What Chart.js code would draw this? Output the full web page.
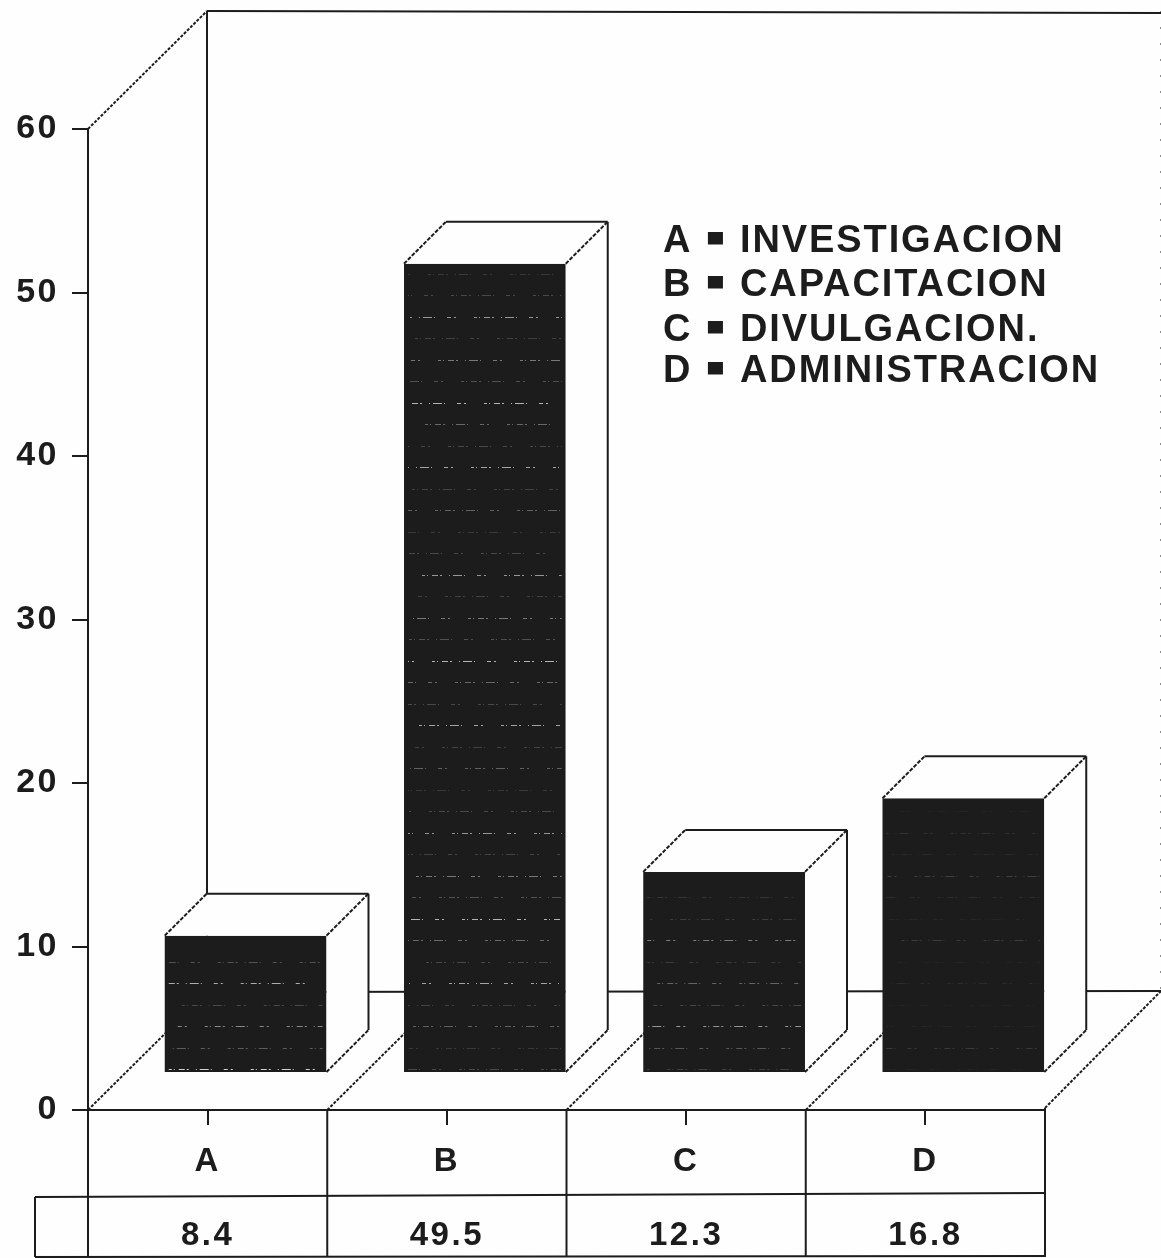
<!DOCTYPE html>
<html>
<head>
<meta charset="utf-8">
<style>
  html, body { margin: 0; padding: 0; background: #fefefe; }
  canvas { display: block; }
</style>
<script src="https://cdn.jsdelivr.net/npm/chart.js@4"></script>
</head>
<body>
<canvas id="chart" width="1161" height="1258"></canvas>
<script>
const categories = ['A', 'B', 'C', 'D'];
const values = [8.4, 49.5, 12.3, 16.8];
const yTicks = [0, 10, 20, 30, 40, 50, 60];
const legendNames = ['INVESTIGACION', 'CAPACITACION', 'DIVULGACION.', 'ADMINISTRACION'];

const INK = '#1c1c1c';
const FONT = '"Liberation Sans", Arial, sans-serif';

// how far the bars sit in front of the back wall, and the depth of each box
const WALL = { x: 119, y: -118 };
const SHIFT = { x: 38, y: -37 };
const DEPTH = 42;

// scan streaks on the dark faces
const streakStrength = [0.9, 0.75, 0.6, 0.18];
const streakLevels = [1, 0.35, 0.6, 0.25, 0.8, 0.3, 0.2, 0.45, 0.25, 0.9, 0.3, 0.5];
const streakDash = [3, 2, 1, 4, 6, 2, 2, 7, 1, 3, 9, 2, 1, 12, 4, 3, 2, 18];

function line(ctx, x1, y1, x2, y2, dash) {
    ctx.beginPath();
    ctx.setLineDash(dash || []);
    ctx.moveTo(x1, y1);
    ctx.lineTo(x2, y2);
    ctx.stroke();
    ctx.setLineDash([]);
}

const box3d = {
    id: 'box3d',
    beforeDraw(chart) {
        const ctx = chart.ctx;
        ctx.letterSpacing = '2.5px';
        ctx.fillStyle = '#fefefe';
        ctx.fillRect(0, 0, chart.width, chart.height);
    },
    beforeDatasetsDraw(chart) {
        const ctx = chart.ctx;
        const { left, right, top, bottom } = chart.chartArea;
        const xs = chart.scales.x;
        const dotted = [3, 1.5];
        ctx.strokeStyle = INK;
        ctx.lineWidth = 2;

        // back wall and floor
        line(ctx, left, top, left + WALL.x, top + WALL.y, dotted);
        line(ctx, left + WALL.x, top + WALL.y, left + WALL.x, bottom + WALL.y);
        line(ctx, left + WALL.x, top + WALL.y, chart.width, top + WALL.y + 2);
        line(ctx, left + WALL.x, bottom + WALL.y, right + WALL.x, bottom + WALL.y - 1);
        ctx.lineWidth = 1;
        line(ctx, right + WALL.x - 3, top + WALL.y, right + WALL.x - 3, bottom + WALL.y - 1, [2, 14]);
        ctx.lineWidth = 2;

        // floor diagonals on the category boundaries
        const step = xs.getPixelForValue(1) - xs.getPixelForValue(0);
        categories.forEach((c, i) => {
            const x = xs.getPixelForValue(i) - step / 2;
            line(ctx, x, bottom, x + WALL.x, bottom + WALL.y, dotted);
        });
        line(ctx, right, bottom - 2, right + WALL.x - 3, bottom + WALL.y - 1, dotted);

        // table under the axis
        const rowY = [bottom + 87, bottom + 83];
        const endY = 1257;
        line(ctx, 35, rowY[0], right, rowY[1]);
        line(ctx, 35, endY, right, endY - 1);
        line(ctx, 35, rowY[0], 35, endY);
        categories.forEach((c, i) => {
            const x = xs.getPixelForValue(i) - step / 2;
            line(ctx, x, bottom, x, endY);
        });
        line(ctx, right, bottom - 2, right, endY);

        ctx.save();
        ctx.translate(SHIFT.x, SHIFT.y);
    },
    afterDatasetsDraw(chart) {
        const ctx = chart.ctx;
        const bars = chart.getDatasetMeta(0).data;
        const dotted = [4, 1.5];

        bars.forEach((bar, i) => {
            const l = bar.x - bar.width / 2;
            const r = bar.x + bar.width / 2;
            const t = bar.y;
            const b = bar.base;

            // streaks every 21.5px going up from the base of the bar
            ctx.strokeStyle = '#e6e6e6';
            ctx.lineWidth = 1;
            let n = 0;
            for (let y = b - 3; y > t + 8; y -= 21.5) {
                ctx.globalAlpha = streakStrength[i] * streakLevels[(n + i * 5) % streakLevels.length];
                ctx.lineDashOffset = n * 23 + i * 31;
                line(ctx, l + 4, Math.round(y) + 0.5, r - 4, Math.round(y) + 0.5, streakDash);
                n++;
            }
            ctx.globalAlpha = 1;
            ctx.lineDashOffset = 0;

            // top and side faces
            ctx.fillStyle = '#fefefe';
            ctx.beginPath();
            ctx.moveTo(l, t);
            ctx.lineTo(l + DEPTH, t - DEPTH);
            ctx.lineTo(r + DEPTH, t - DEPTH);
            ctx.lineTo(r + DEPTH, b - DEPTH);
            ctx.lineTo(r, b);
            ctx.lineTo(r, t);
            ctx.closePath();
            ctx.fill();

            ctx.strokeStyle = INK;
            ctx.lineWidth = 2;
            line(ctx, l, t, l + DEPTH, t - DEPTH, dotted);
            line(ctx, r, t, r + DEPTH, t - DEPTH, dotted);
            line(ctx, r, b, r + DEPTH, b - DEPTH, dotted);
            line(ctx, l + DEPTH, t - DEPTH, r + DEPTH, t - DEPTH);
            line(ctx, r + DEPTH, t - DEPTH, r + DEPTH, b - DEPTH);
        });
        ctx.restore();
    },
    afterDraw(chart) {
        const ctx = chart.ctx;
        ctx.save();
        ctx.fillStyle = INK;
        ctx.strokeStyle = INK;
        ctx.textAlign = 'left';
        ctx.textBaseline = 'alphabetic';
        const baselines = [252, 296, 341, 382];
        legendNames.forEach((name, i) => {
            ctx.font = 'bold 38px ' + FONT;
            ctx.letterSpacing = '1.9px';
            ctx.fillText(categories[i], 663, baselines[i]);
            ctx.fillText(name, 740, baselines[i]);
            // the equals sign is filled in solid on the scan
            ctx.font = 'bold 22px ' + FONT;
            ctx.letterSpacing = '0px';
            ctx.lineWidth = 4;
            ctx.fillText('=', 709, baselines[i] - 6);
            ctx.strokeText('=', 709, baselines[i] - 6);
        });
        ctx.restore();
    }
};

new Chart(document.getElementById('chart'), {
    type: 'bar',
    data: {
        labels: categories.map((c, i) => [c, values[i].toFixed(1)]),
        datasets: [{
            data: values,
            backgroundColor: INK,
            borderWidth: 0,
            barPercentage: 0.676,
            categoryPercentage: 1,
            clip: false
        }]
    },
    options: {
        responsive: false,
        devicePixelRatio: 1,
        animation: false,
        layout: { padding: { top: 129, right: 116, left: 0, bottom: 0 } },
        plugins: { legend: { display: false }, tooltip: { enabled: false } },
        scales: {
            x: {
                afterFit(scale) { scale.height = 148; },
                border: { color: INK, width: 2 },
                grid: { drawOnChartArea: false, offset: false, color: INK, tickLength: 15, lineWidth: 2 },
                ticks: {
                    color: INK,
                    padding: 0,
                    maxRotation: 0,
                    font: { family: FONT, size: 33, weight: 'bold', lineHeight: '74px' }
                }
            },
            y: {
                min: 0,
                max: 60,
                afterFit(scale) { scale.width = 88; },
                afterBuildTicks(scale) { scale.ticks = yTicks.map(v => ({ value: v })); },
                border: { color: INK, width: 2 },
                grid: { drawOnChartArea: false, color: INK, tickLength: 16, lineWidth: 2 },
                ticks: {
                    color: INK,
                    padding: 13,
                    font: { family: FONT, size: 34, weight: 'bold' }
                }
            }
        }
    },
    plugins: [box3d]
});
</script>
</body>
</html>
